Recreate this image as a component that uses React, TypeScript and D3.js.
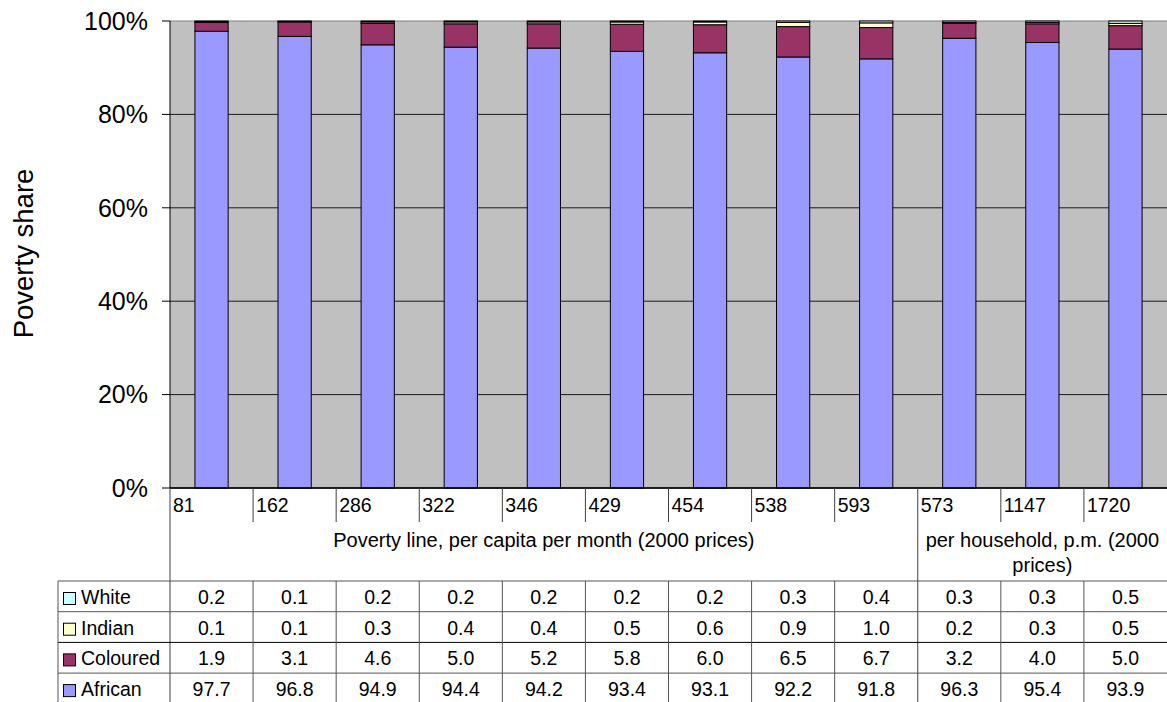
import React from "react";
import * as d3 from "d3";

// Poverty lines (2000 prices): first nine per capita per month, last three per household
const categories = ["81", "162", "286", "322", "346", "429", "454", "538", "593", "573", "1147", "1720"];
const african = [97.7, 96.8, 94.9, 94.4, 94.2, 93.4, 93.1, 92.2, 91.8, 96.3, 95.4, 93.9];
const coloured = [1.9, 3.1, 4.6, 5.0, 5.2, 5.8, 6.0, 6.5, 6.7, 3.2, 4.0, 5.0];
const indian = [0.1, 0.1, 0.3, 0.4, 0.4, 0.5, 0.6, 0.9, 1.0, 0.2, 0.3, 0.5];
const white = [0.2, 0.1, 0.2, 0.2, 0.2, 0.2, 0.2, 0.3, 0.4, 0.3, 0.3, 0.5];
const yTicks = [0, 0.2, 0.4, 0.6, 0.8, 1.0];

const seriesKeys = ["African", "Coloured", "Indian", "White"];
const seriesValues: Record<string, number[]> = {
  African: african,
  Coloured: coloured,
  Indian: indian,
  White: white,
};
const seriesColors: Record<string, string> = {
  African: "#9999FF",
  Coloured: "#993366",
  Indian: "#FFFFCC",
  White: "#CCFFFF",
};
// table rows, top to bottom
const tableOrder = ["White", "Indian", "Coloured", "African"];

const FONT = "'Liberation Sans', Arial, sans-serif";

export default function App() {
  const W = 1167;
  const H = 702;
  const left = 170;
  const right = 1167;
  const top = 21;
  const bottom = 488;
  const tableLeft = 58;
  const tableTop = 581;
  const rowH = 30.7;
  const splitIndex = 9; // first per-household column
  const fs = 19.5;

  const x = d3.scaleBand<string>().domain(categories).range([left, right]).paddingInner(0).paddingOuter(0);
  const bw = x.bandwidth();
  const barW = bw * 0.4;
  const y = d3.scaleLinear().domain([0, 1]).range([bottom, top]);

  const rows = categories.map((c, i) => {
    const r: Record<string, any> = { cat: c };
    seriesKeys.forEach((k) => (r[k] = seriesValues[k][i]));
    return r;
  });
  const stacked = d3.stack<any>().keys(seriesKeys).offset(d3.stackOffsetExpand)(rows);

  const splitX = x(categories[splitIndex])!;

  return (
    <svg
      width={W}
      height={H}
      style={{ position: "fixed", left: 0, top: 0, background: "#fff" }}
      fontFamily={FONT}
    >
      {/* plot background */}
      <rect x={left} y={top} width={right - left} height={bottom - top} fill="#C0C0C0" />
      {/* gridlines */}
      {yTicks.map((t) => (
        <line
          key={"g" + t}
          x1={left}
          x2={right}
          y1={y(t)}
          y2={y(t)}
          stroke={t === 1 ? "#808080" : "#1a1a1a"}
          strokeWidth={1}
        />
      ))}
      {/* bars */}
      {stacked.map((s) => (
        <g key={s.key}>
          {s.map((d, i) => (
            <rect
              key={i}
              x={x(categories[i])! + (bw - barW) / 2}
              y={y(d[1])}
              width={barW}
              height={Math.max(0, y(d[0]) - y(d[1]))}
              fill={seriesColors[s.key]}
              stroke="#000"
              strokeWidth={1}
            />
          ))}
        </g>
      ))}
      {/* y axis */}
      <line x1={left} x2={left} y1={top} y2={bottom} stroke="#000" />
      <line x1={left} x2={right} y1={bottom} y2={bottom} stroke="#000" strokeWidth={1.5} />
      {yTicks.map((t) => (
        <g key={"t" + t}>
          <line x1={left - 8} x2={left} y1={y(t)} y2={y(t)} stroke="#000" />
          <text x={148} y={y(t)} dy="0.35em" textAnchor="end" fontSize={25} fill="#000">
            {d3.format(".0%")(t)}
          </text>
        </g>
      ))}
      <text
        transform={`translate(33,${253.5}) rotate(-90)`}
        textAnchor="middle"
        fontSize={27.5}
        fill="#000"
      >
        Poverty share
      </text>

      {/* category labels row */}
      {categories.map((c, i) => (
        <g key={"c" + c}>
          <line
            x1={x(c)!}
            x2={x(c)!}
            y1={bottom}
            y2={i === 0 || i === splitIndex ? H : 522}
            stroke="#404040"
          />
          <text x={x(c)! + 3} y={512} fontSize={fs} fill="#000">
            {c}
          </text>
        </g>
      ))}
      {/* group labels */}
      <text x={(left + splitX) / 2} y={547} textAnchor="middle" fontSize={20} fill="#000">
        Poverty line, per capita per month (2000 prices)
      </text>
      <text x={(splitX + right) / 2} y={547} textAnchor="middle" fontSize={20} fill="#000">
        per household, p.m. (2000
      </text>
      <text x={(splitX + right) / 2} y={572} textAnchor="middle" fontSize={20} fill="#000">
        prices)
      </text>

      {/* data table */}
      {tableOrder.map((k, r) => {
        const ry = tableTop + r * rowH;
        return (
          <g key={"row" + k}>
            <line x1={tableLeft} x2={right} y1={ry} y2={ry} stroke={r === 2 ? "#000" : "#555"} />
            <rect x={63.5} y={ry + 11.5} width={12} height={12} fill={seriesColors[k]} stroke="#000" />
            <text x={81} y={ry + 23} fontSize={fs} fill="#000">
              {k}
            </text>
            {categories.map((c, i) => (
              <text
                key={c}
                x={x(c)! + bw / 2}
                y={ry + 23}
                textAnchor="middle"
                fontSize={fs}
                fill="#000"
              >
                {seriesValues[k][i].toFixed(1)}
              </text>
            ))}
          </g>
        );
      })}
      <line x1={tableLeft} x2={right} y1={tableTop + 4 * rowH} y2={tableTop + 4 * rowH} stroke="#555" />
      <line x1={tableLeft} x2={tableLeft} y1={tableTop} y2={H} stroke="#555" />
      {categories.map((c, i) =>
        i === 0 || i === splitIndex ? null : (
          <line key={"v" + c} x1={x(c)!} x2={x(c)!} y1={tableTop} y2={H} stroke="#555" />
        )
      )}
    </svg>
  );
}
